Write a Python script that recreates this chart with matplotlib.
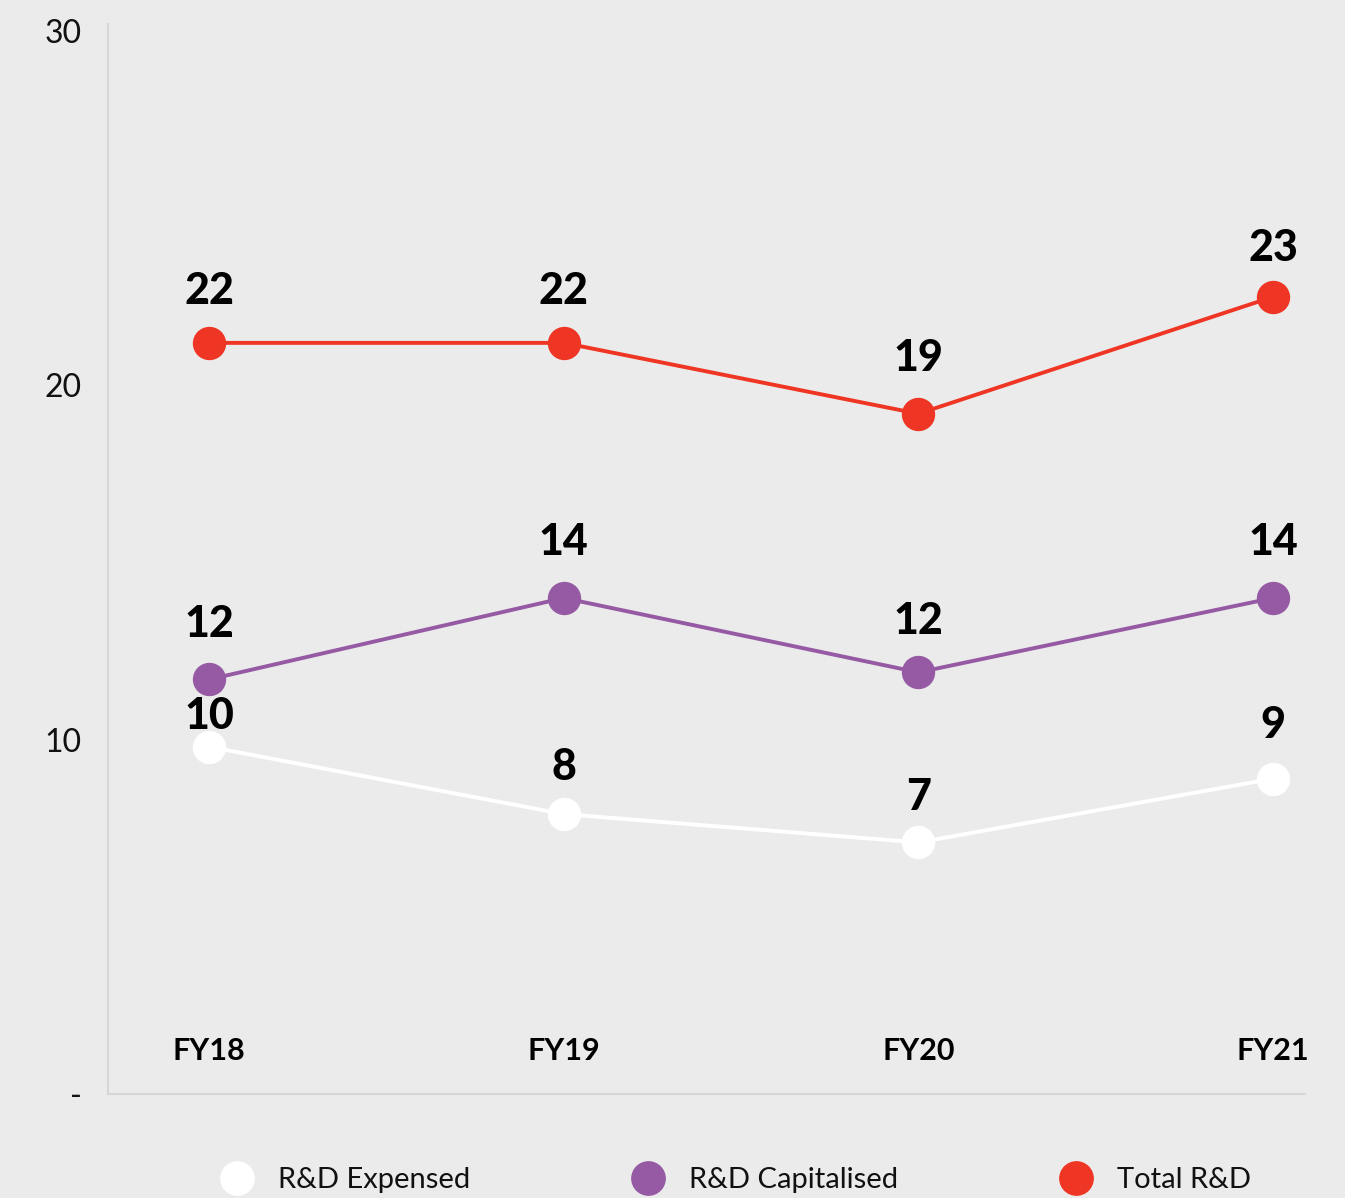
import numpy as np
import matplotlib.pyplot as plt
from matplotlib.lines import Line2D

# DATOS
years = ['FY18', 'FY19', 'FY20', 'FY21']
expensed = [9.8, 7.9, 7.1, 8.9]
capitalised = [11.7, 14.0, 11.9, 14.0]
total = [21.2, 21.2, 19.2, 22.5]
lbl_expensed = ['10', '8', '7', '9']
lbl_capitalised = ['12', '14', '12', '14']
lbl_total = ['22', '22', '19', '23']

fondo = '#ebebeb'
rojo = '#ef3524'
morado = '#955aa3'
blanco = '#ffffff'

plt.rcParams['font.family'] = ['Lato', 'DejaVu Sans']

fig = plt.figure(figsize=(13.45, 11.98), dpi=100, facecolor=fondo)
ax = fig.add_axes([108/1345, 104/1198, (1305-108)/1345, (1095-25)/1198])
ax.set_facecolor(fondo)

x = np.arange(len(years))
series = [
    (expensed, lbl_expensed, blanco, 'R&D Expensed', [22, 34, 33, 39]),
    (capitalised, lbl_capitalised, morado, 'R&D Capitalised', [40, 40, 37, 40]),
    (total, lbl_total, rojo, 'Total R&D', [37, 37, 40, 35]),
]
handles = []
for vals, lbls, col, name, offs in series:
    ax.plot(x, vals, color=col, lw=2.8, marker='o', ms=23, zorder=3)
    for xi, v, t, o in zip(x, vals, lbls, offs):
        ax.annotate(t, (xi, v), xytext=(0, o), textcoords='offset points',
                    ha='center', va='center', fontsize=31, fontweight='black',
                    color='black', zorder=4)
    handles.append(Line2D([], [], color=col, marker='o', ms=24, lw=0, label=name))

# etiquetas de categoria dentro del grafico
for xi, t in zip(x, years):
    ax.text(xi, 1.22, t, ha='center', va='center', fontsize=22,
            fontweight='bold', color='black')

ax.set_xlim(-0.285, 3.09)
ax.set_ylim(0, 30.2)
ax.set_xticks([])
ax.set_yticks([0, 10, 20, 30])
ax.set_yticklabels(['-', '10', '20', '30'])
ax.tick_params(axis='y', length=0, pad=19, labelsize=23, labelcolor='#111111')

for s in ['top', 'right']:
    ax.spines[s].set_visible(False)
for s in ['left', 'bottom']:
    ax.spines[s].set_color('#d6d6d6')
    ax.spines[s].set_linewidth(1.5)

leg = fig.legend(handles=handles, loc='center', bbox_to_anchor=(0.548, 0.015),
                 ncol=3, frameon=False, fontsize=21, handletextpad=0.9,
                 columnspacing=5.6, handlelength=1.0)
for t in leg.get_texts():
    t.set_color('#111111')

fig.savefig('out.png', dpi=100, facecolor=fondo)
